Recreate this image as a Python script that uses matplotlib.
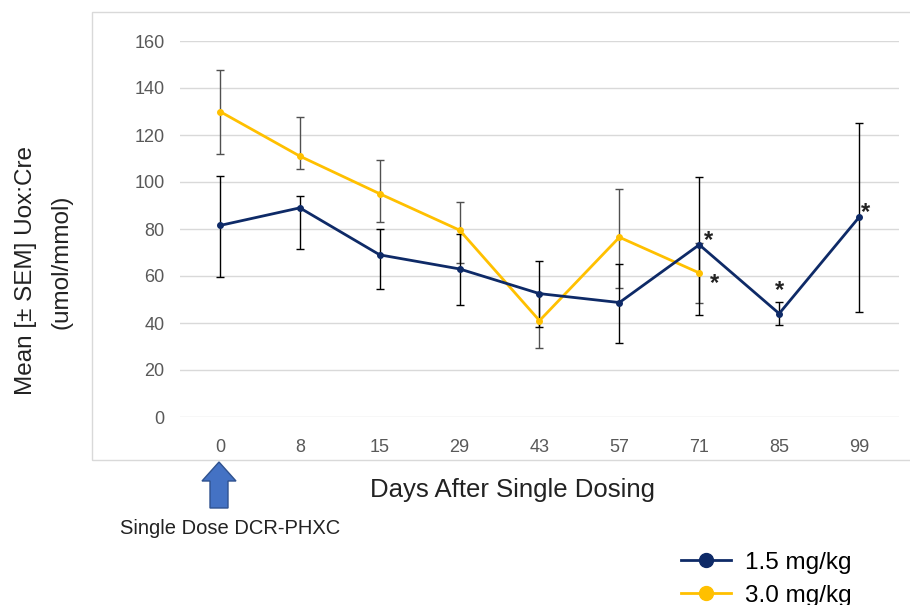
from matplotlib import pyplot as plt
from matplotlib.lines import Line2D
import matplotlib.patches as mpatches
import numpy as np

plt.rcParams['font.family'] = ['Liberation Sans', 'DejaVu Sans']

days = ['0', '8', '15', '29', '43', '57', '71', '85', '99']

# 1.5 mg/kg
low_mean = [81.5, 89, 69, 63, 52.5, 48.7, 73.3, 44, 85]
low_top = [102.5, 94, 80, 78, 66.4, 65, 102, 49, 125]
low_bot = [59.6, 71.5, 54.5, 47.7, 38.3, 31.5, 43.4, 39, 44.7]

# 3.0 mg/kg (no data after day 71)
high_mean = [130, 111, 95, 79.5, 41, 76.5, 61.3]
high_top = [147.7, 127.7, 109.4, 91.5, 52.6, 97, 74]
high_bot = [112, 105.5, 83, 65.5, 29.4, 55, 48.5]

navy = '#0E2A67'
gold = '#FFC000'

fig = plt.figure(figsize=(9.1, 6.05), dpi=100)
ax = fig.add_axes([180/910, 1-417/605, 719/910, (417-41)/605])

x_low = np.arange(len(low_mean))
x_high = np.arange(len(high_mean))

low_err = [np.array(low_mean) - np.array(low_bot), np.array(low_top) - np.array(low_mean)]
high_err = [np.array(high_mean) - np.array(high_bot), np.array(high_top) - np.array(high_mean)]

ax.errorbar(x_high, high_mean, yerr=high_err, fmt='none', ecolor='#505050',
            elinewidth=1, capsize=3, capthick=1, zorder=2)
ax.errorbar(x_low, low_mean, yerr=low_err, fmt='none', ecolor='black',
            elinewidth=1, capsize=3, capthick=1, zorder=2)
ax.plot(x_high, high_mean, color=gold, lw=2, marker='o', ms=4, zorder=3)
ax.plot(x_low, low_mean, color=navy, lw=2, marker='o', ms=4, zorder=4)

# significance stars
for xi, yi, dx, dy in [(6, low_mean[6], 0.12, 1.7), (6, high_mean[6], 0.19, -4.3),
                       (7, low_mean[7], 0.0, 10), (8, low_mean[8], 0.08, 2)]:
    ax.text(xi + dx, yi + dy, '*', fontsize=17, fontweight='bold', color='#222222',
            ha='center', va='center')

ax.set_xlim(-0.5, 8.5)
ax.set_ylim(0, 160)
ax.set_yticks(np.arange(0, 161, 20))
ax.set_xticks(x_low)
ax.set_xticklabels(days)
ax.grid(axis='y', color='#d9d9d9', lw=1)
ax.set_axisbelow(True)
for s in ax.spines.values():
    s.set_visible(False)
ax.tick_params(length=0, labelsize=13, colors='#595959')
ax.tick_params(axis='x', pad=16)
ax.tick_params(axis='y', pad=11)

# chart area border
fig.add_artist(mpatches.Rectangle((92/910, 1-460/605), 1, 448/605, transform=fig.transFigure,
                                  fill=False, ec='#d9d9d9', lw=1))

fig.text(513/910, 1-490/605, 'Days After Single Dosing', fontsize=18.5,
         ha='center', va='center', color='#222222')
fig.text(26/910, 1-270/605, 'Mean [\u00b1 SEM] Uox:Cre', rotation=90, fontsize=17.5,
         ha='center', va='center', color='#222222')
fig.text(62/910, 1-262/605, '(umol/mmol)', rotation=90, fontsize=17.5,
         ha='center', va='center', color='#222222')

# dosing arrow
arrow = mpatches.FancyArrow(2.19, (605-508)/100, 0, 0.46, width=0.18, head_width=0.34,
                            head_length=0.19, length_includes_head=True,
                            fc='#4472C4', ec='#2F528F', lw=1, transform=fig.dpi_scale_trans)
fig.add_artist(arrow)
fig.text(230/910, 1-529/605, 'Single Dose DCR-PHXC', fontsize=14.5,
         ha='center', va='center', color='#222222')

handles = [Line2D([], [], color=navy, lw=2, marker='o', ms=10),
           Line2D([], [], color=gold, lw=2, marker='o', ms=10)]
fig.legend(handles, ['1.5 mg/kg', '3.0 mg/kg'], loc='upper left',
           bbox_to_anchor=(659/910, 1-530/605), frameon=False, fontsize=17.5,
           handlelength=2.05, labelspacing=0.45, handletextpad=0.6)

fig.savefig('out.png', dpi=100)
